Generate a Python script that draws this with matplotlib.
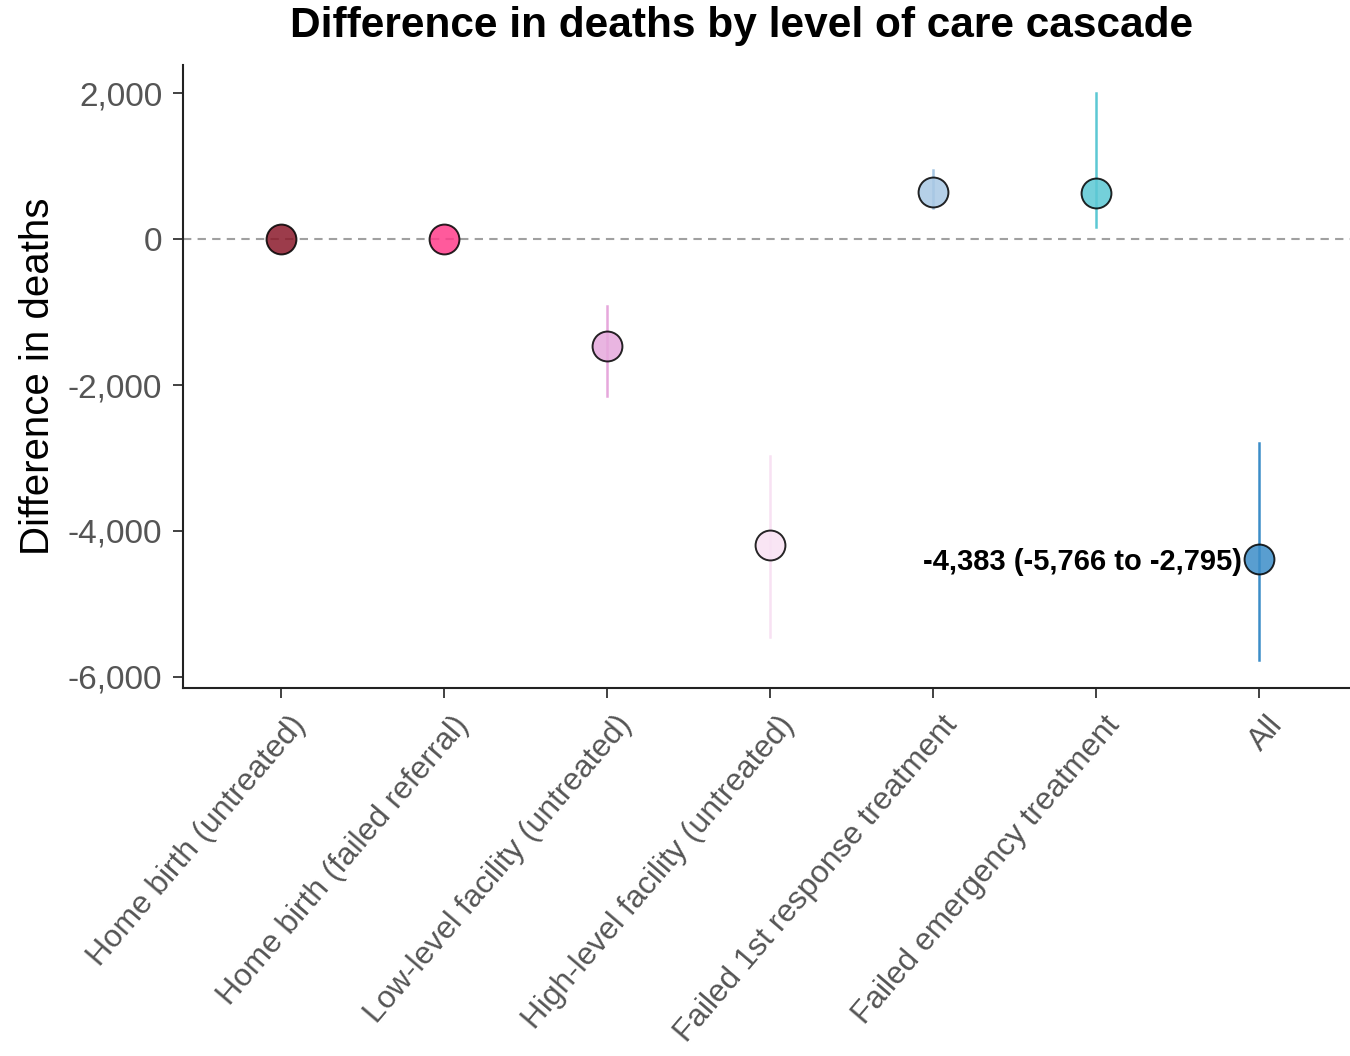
import matplotlib
matplotlib.use("Agg")
import matplotlib.pyplot as plt
import matplotlib.transforms as mtransforms
import numpy as np

categories = ["Home birth (untreated)", "Home birth (failed referral)",
              "Low-level facility (untreated)", "High-level facility (untreated)",
              "Failed 1st response treatment", "Failed emergency treatment", "All"]
estimate = [0, 0, -1466, -4192, 644, 630, -4383]
lower = [0, 0, -2151, -5452, 425, 164, -5766]
upper = [0, 0, -918, -2973, 945, 2000, -2795]
colors = ["#8B1A2B", "#FF3D8B", "#E6A8DC", "#F8E1F3", "#A8C8E4", "#5CC8D4", "#3C8DC8"]
annotation = "-4,383 (-5,766 to -2,795)"

plt.rcParams['font.family'] = ['Liberation Sans', 'DejaVu Sans']

fig = plt.figure(figsize=(13.5, 10.56), dpi=100)
ax = fig.add_axes([0.1356, 0.3485, 0.8644, 0.5899])

x = np.arange(len(categories))
ax.axhline(0, color="#A0A0A0", linestyle=(0, (4, 3)), linewidth=1.5, zorder=1)
for i in range(len(categories)):
    ax.plot([x[i], x[i]], [lower[i], upper[i]], color=colors[i], linewidth=1.8, zorder=2)
    ax.plot(x[i], estimate[i], marker="o", markersize=21.5, markerfacecolor=colors[i],
            markeredgecolor="black", markeredgewidth=1.4, alpha=0.85, linestyle="none", zorder=3)

ax.text(x[-1] - 0.1, estimate[-1], annotation, ha="right", va="center_baseline",
        fontsize=21, fontweight="bold", color="black", zorder=4)

ax.set_xlim(-0.6, 6.56)
ax.set_ylim(-6151, 2384)
ax.set_yticks([-6000, -4000, -2000, 0, 2000])
ax.set_yticklabels(["-6,000", "-4,000", "-2,000", "0", "2,000"])
ax.set_xticks(x)
ax.set_xticklabels(categories, rotation=49.5, ha="right", va="top", rotation_mode="anchor")
ax.tick_params(axis="y", labelsize=24, labelcolor="#555555", length=7, width=1.3, color="#333333", pad=8)
ax.tick_params(axis="x", labelsize=22.8, labelcolor="#555555", length=7, width=1.3, color="#333333", pad=9)
offset = mtransforms.ScaledTranslation(8 / 100, 0, fig.dpi_scale_trans)
for lab in ax.get_xticklabels():
    lab.set_transform(lab.get_transform() + offset)
for s in ["top", "right"]:
    ax.spines[s].set_visible(False)
for s in ["left", "bottom"]:
    ax.spines[s].set_linewidth(1.5)
    ax.spines[s].set_color("#222222")

ax.set_ylabel("Difference in deaths", fontsize=29, color="black", labelpad=8)
fig.suptitle("Difference in deaths by level of care cascade", fontsize=30.5, fontweight="bold",
             x=0.5495, y=0.994, va="top")

fig.savefig("out.png", dpi=100, facecolor="white")
